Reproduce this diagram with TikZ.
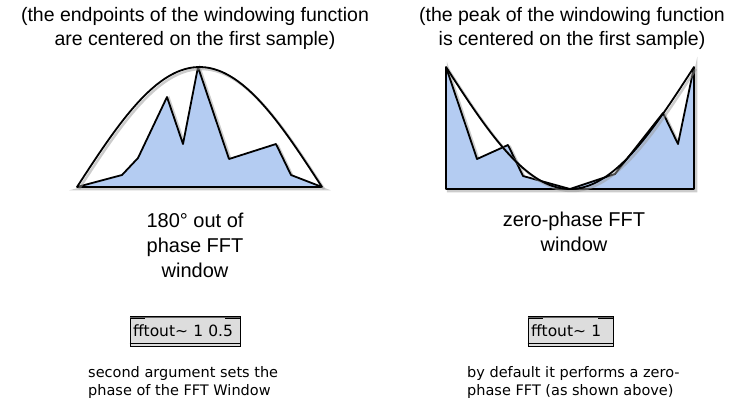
\documentclass[tikz,border=0pt]{standalone}
\usepackage{fontspec}
\setmainfont{Liberation Sans}
\newfontfamily\genevafont{DejaVu Sans}
\usetikzlibrary{positioning}
\definecolor{WinBlue}{HTML}{B4CCF2}
\definecolor{ObjGray}{HTML}{DDDDDD}
\tikzset{
    % Text styles
    caption/.style={
        align=center,
        inner sep=0pt,
        anchor=north,
        font=\fontsize{19.5}{24.5}\selectfont
    },
    winlabel/.style={
        align=center,
        inner sep=0pt,
        anchor=north,
        font=\fontsize{20}{25}\selectfont
    },
    note/.style={
        align=left,
        inner sep=0pt,
        anchor=north west,
        font=\genevafont\fontsize{14.5}{18}\selectfont
    },
    % Max object box
    maxobj/.style={
        rectangle,
        draw=black,
        fill=ObjGray,
        line width=0.9pt,
        minimum height=30pt,
        inner xsep=3pt,
        align=left,
        font=\genevafont\fontsize{15.5}{18}\selectfont
    },
    % Graph styles
    spectrum/.style={
        fill=WinBlue,
        draw=black,
        line width=1.8pt,
        line join=round
    },
    window/.style={
        draw=black,
        line width=1.8pt
    },
    shade/.style={
        draw=black!40,
        line width=2.5pt,
        opacity=0.5,
        shift={(2,2)}
    }
}

\begin{document}
\begin{tikzpicture}[x=1pt, y=-1pt]
    \useasboundingbox (0,0) rectangle (737,402);

    % captions
    \node[caption] (capA) at (195,7) {(the endpoints of the windowing function\\are centered on the first sample)};
    \node[caption] (capB) at (572,7) {(the peak of the windowing function\\is centered on the first sample)};

    % 180 degree window
    \draw[shade] (77,187) -- (122,175) -- (138,158) -- (167,97) -- (183,144) -- (198,67) -- (229,159) -- (276,144) -- (291,175) -- (322,187) -- cycle;
    \path[spectrum] (77,187) -- (122,175) -- (138,158) -- (167,97) -- (183,144) -- (198,67) -- (229,159) -- (276,144) -- (291,175) -- (322,187) -- cycle;
    \draw[shade] plot[domain=0:180, samples=60, smooth] ({77+245*(\x/180)},{187-120*sin(\x)});
    \draw[window] plot[domain=0:180, samples=60, smooth] ({77+245*(\x/180)},{187-120*sin(\x)});

    % zero-phase window
    \draw[shade] (446,67) -- (477,159) -- (508,145) -- (523,176) -- (570,189) -- (615,174) -- (663,113) -- (678,144) -- (694,67) -- (694,189) -- (446,189) -- cycle;
    \path[spectrum] (446,67) -- (477,159) -- (508,145) -- (523,176) -- (570,189) -- (615,174) -- (663,113) -- (678,144) -- (694,67) -- (694,189) -- (446,189) -- cycle;
    \draw[shade] plot[domain=0:180, samples=60, smooth] ({446+248*(\x/180)},{67+122*sin(\x)});
    \draw[window] plot[domain=0:180, samples=60, smooth] ({446+248*(\x/180)},{67+122*sin(\x)});

    \node[winlabel] (labA) at (195,213) {180° out of\\phase FFT\\window};
    \node[winlabel] (labB) at (574,212) {zero-phase FFT\\window};

    % fftout~ objects
    \node[maxobj, text width=104pt] (fftA) at (185,331) {fftout\textasciitilde\ 1 0.5};
    \node[maxobj, text width=79pt] (fftB) at (570.5,331) {fftout\textasciitilde\ 1};
    \foreach \obj in {fftA, fftB} {
        \fill (\obj.north west) rectangle ++(15,3.5);
        \fill (\obj.north east) rectangle ++(-15,3.5);
        \draw[black!60, line width=0.6pt] ([yshift=-2pt]\obj.north west) -- ([yshift=-2pt]\obj.north east);
        \draw[line width=0.8pt] ([yshift=3.5pt]\obj.south west) -- ([yshift=3.5pt]\obj.south east);
    }

    \node[note] (noteA) at (88,366) {second argument sets the\\phase of the FFT Window};
    \node[note] (noteB) at (467,366) {by default it performs a zero-\\phase FFT (as shown above)};
\end{tikzpicture}
\end{document}
